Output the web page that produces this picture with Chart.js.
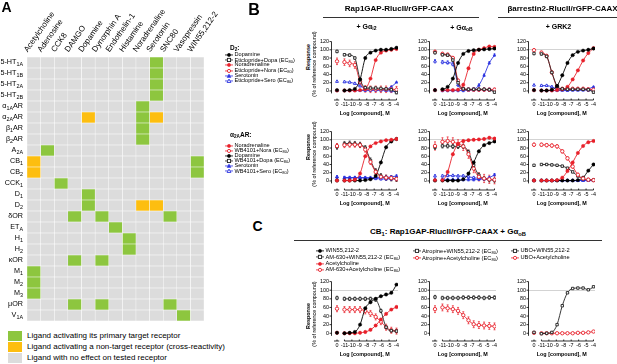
<!DOCTYPE html>
<html>
<head>
<meta charset="utf-8">
<script src="https://cdn.jsdelivr.net/npm/chart.js@4.4.0/dist/chart.umd.min.js"></script>
<style>
  body { margin: 0; background: #fff; font-family: "Liberation Sans", Arial, sans-serif; }
  #fig { position: relative; width: 617px; height: 364px; overflow: hidden; background: #fff; }
  #fig canvas { position: absolute; }
  .t { position: absolute; white-space: nowrap; line-height: 1; color: #000; }
  .t sub { font-size: 72%; vertical-align: -0.3em; line-height: 0; }
  .rule { position: absolute; height: 1px; background: #333; }
  .sw { position: absolute; width: 13.5px; height: 10px; }
</style>
</head>
<body>
<div id="fig"></div>
<script>
// ---------- panel A: ligand x receptor screen ----------
const ligands = ["Acetylcholine", "Adenosine", "CCK8", "DAMGO", "Dopamine", "Dynorphin A",
  "Endothelin-1", "Histamine", "Noradrenaline", "Serotonin", "SNC80", "Vasopressin", "WIN55,212-2"];
const receptors = ["5-HT{1A}", "5-HT{1B}", "5-HT{2A}", "5-HT{2B}", "α{1A}AR", "α{2A}AR", "β{1}AR", "β{2}AR",
  "A{2A}", "CB{1}", "CB{2}", "CCK{1}", "D{1}", "D{2}", "δOR", "ET{A}", "H{1}", "H{2}", "κOR",
  "M{1}", "M{2}", "M{3}", "μOR", "V{1A}"];
// one string per receptor, one digit per ligand: 0 no effect, 1 primary target, 2 cross-reactivity
const response = [
  "0000000001000", "0000000001000", "0000000001000", "0000000001000",
  "0000000010000", "0000200012000", "0000000010000", "0000000010000",
  "0100000000000", "2000000000001", "2000000000001", "0010000000000",
  "0000100000000", "0000100022000", "0001010000100", "0000001000000",
  "0000000100000", "0000000100000", "0001010000000",
  "1000000000000", "1000000000000", "1000000000000", "0001010000100", "0000000000010"];
const legendA = ["Ligand activating its primary target receptor",
  "Ligand activating a non-target receptor (cross-reactivity)",
  "Ligand with no effect on tested receptor"];

// ---------- dose axis shared by panels B and C ----------
const doses = [-12, -11, -10.3, -9.6, -8.9, -8.2, -7.5, -6.8, -6.1, -5.4, -4.7, -4]; // -12 = vehicle
const doseTicks = [-12, -11, -10, -9, -8, -7, -6, -5, -4];
const vehicleLabel = "0";
const yTicks = [0, 20, 40, 60, 80, 100, 120];

// ---------- panel B: D2 ----------
const d2Names = ["Dopamine", "Eticlopride+Dopa (EC{80})", "Noradrenaline", "Eticlopride+Nora (EC{80})",
  "Serotonin", "Eticlopride+Sero (EC{80})"];
const d2Gi2 = [
  [2, 1, 2, 5, 28, 80, 93, 98, 100, 100, 102, 105],
  [96, 88, 87, 80, 28, 8, 7, 7, 6, 5, 3, -4],
  [1, 1, 1, 1, 2, 5, 30, 75, 93, 98, 100, 102],
  [72, 70, 67, 63, 22, 5, 4, 4, 4, 4, 4, 3],
  [1, 1, 1, 1, 1, 1, 1, 2, 2, 4, 10, 21],
  [23, 22, 21, 18, 12, 6, 3, 2, 2, 1, 0, -2]];
const d2Gi2Err = [1, 3, 1, 8, 1, 2];
const d2GoB = [
  [2, 4, 10, 30, 68, 90, 97, 99, 100, 101, 102, 103],
  [93, 88, 87, 75, 20, 5, 4, 4, 4, 4, 3, -3],
  [2, 2, 2, 2, 3, 15, 55, 90, 100, 104, 108, 107],
  [95, 90, 88, 80, 25, 5, 3, 3, 3, 3, 3, 3],
  [2, 1, 1, 1, 1, 1, 2, 4, 14, 38, 68, 87],
  [72, 70, 69, 65, 15, 4, 3, 3, 3, 3, 3, 2]];
const d2GoBErr = [1, 3, 2, 4, 3, 4];
const d2Grk2 = [
  [2, 1, 1, 3, 12, 38, 68, 87, 95, 98, 100, 103],
  [91, 90, 84, 45, 12, 5, 4, 4, 4, 4, 3, -3],
  [2, 1, 1, 1, 2, 4, 10, 28, 50, 74, 92, 104],
  [99, 93, 85, 45, 10, 5, 5, 5, 5, 5, 4, 3],
  [2, 1, 1, 1, 1, 1, 1, 2, 2, 3, 5, 10],
  [14, 13, 13, 10, 5, 3, 2, 2, 2, 2, 2, 2]];
const d2Grk2Err = [1, 3, 2, 4, 1, 2];

// ---------- panel B: alpha2A AR ----------
const a2aNames = ["Noradrenaline", "WB4101+Nora (EC{80})", "Dopamine", "WB4101+Dopa (EC{80})",
  "Serotonin", "WB4101+Sero (EC{80})"];
const a2aGi2 = [
  [1, 1, 1, 3, 18, 60, 84, 92, 96, 99, 100, 102],
  [85, 87, 88, 88, 87, 76, 46, 22, 10, 8, 7, 5],
  [1, 1, 1, 1, 1, 2, 4, 12, 45, 82, 96, 102],
  [83, 90, 91, 90, 88, 80, 50, 24, 12, 8, 6, 5],
  [9, 8, 8, 8, 8, 8, 8, 8, 9, 9, 10, 12],
  [10, 8, 8, 8, 8, 7, 6, 6, 5, 5, 5, 5]];
const a2aGi2Err = [1, 6, 1, 6, 3, 3];
const a2aGoB = [
  [2, 2, 22, 65, 90, 97, 99, 100, 101, 102, 105, 103],
  [85, 95, 97, 95, 90, 84, 65, 30, 10, 6, 4, 3],
  [1, 1, 1, 1, 1, 4, 18, 45, 72, 87, 92, 96],
  [82, 85, 85, 84, 84, 84, 70, 38, 14, 6, 3, 2],
  [2, 3, 3, 3, 3, 3, 3, 3, 4, 5, 8, 15],
  [12, 12, 13, 13, 12, 12, 10, 8, 6, 5, 4, 3]];
const a2aGoBErr = [2, 10, 2, 5, 3, 3];
const a2aGrk2 = [
  [1, 1, 1, 1, 2, 8, 24, 45, 68, 85, 94, 97],
  [88, 88, 87, 86, 84, 72, 55, 35, 15, 6, 3, 2],
  [1, 1, 1, 1, 1, 1, 1, 1, 2, 8, 25, 40],
  [38, 40, 40, 39, 38, 36, 31, 22, 12, 5, 3, 2],
  [1, 1, 1, 1, 1, 1, 1, 1, 1, 1, 2, 2],
  [2, 1, 1, 1, 1, 1, 1, 1, 1, 1, 1, 1]];
const a2aGrk2Err = [1, 4, 1, 2, 1, 1];

// ---------- panel C: CB1 ----------
const cb1WinNames = ["WIN55,212-2", "AM-630+WIN55,212-2 (EC{80})", "Acetylcholine", "AM-630+Acetylcholine (EC{80})"];
const cb1Win = [
  [1, 0, 1, 3, 20, 58, 72, 80, 86, 90, 94, 113],
  [82, 80, 80, 80, 80, 80, 80, 78, 52, 14, 6, 5],
  [1, 0, 0, 0, 1, 3, 8, 18, 32, 45, 55, 61],
  [57, 55, 55, 55, 55, 52, 46, 38, 27, 14, 7, 5]];
const cb1WinErr = [1, 4, 2, 7];
const cb1AtropineNames = ["Atropine+WIN55,212-2 (EC{80})", "Atropine+Acetylcholine (EC{80})"];
const cb1Atropine = [
  [84, 82, 82, 82, 82, 83, 83, 83, 83, 82, 83, 83],
  [56, 60, 58, 56, 52, 42, 30, 21, 19, 18, 17, 16]];
const cb1AtropineErr = [4, 8];
const cb1UboNames = ["UBO+WIN55,212-2", "UBO+Acetylcholine"];
const cb1Ubo = [
  [2, -1, 0, 2, 20, 64, 94, 104, 105, 105, 101, 108],
  [1, 0, 0, 0, 0, 0, 0, 0, 1, 1, 2, 4]];
const cb1UboErr = [1, 1];

// ---------- styles ----------
const cellColor = ["#dcdcdc", "#8dc63f", "#fdbe10"];
const styleDefs = {
  blackFill: { color: "#000000", shape: "circle", open: false },
  blackOpen: { color: "#222222", shape: "rect", open: true },
  redFill: { color: "#e8202a", shape: "circle", open: false },
  redOpen: { color: "#e8202a", shape: "circle", open: true },
  blueFill: { color: "#2a32e0", shape: "triangle", open: false },
  blueOpen: { color: "#2a32e0", shape: "triangle", open: true },
};
const d2Styles = ["blackFill", "blackOpen", "redFill", "redOpen", "blueFill", "blueOpen"];
const a2aStyles = ["redFill", "redOpen", "blackFill", "blackOpen", "blueFill", "blueOpen"];
const cb1WinStyles = ["blackFill", "blackOpen", "redFill", "redOpen"];
const cb1PairStyles = ["blackOpen", "redOpen"];

Chart.defaults.font.family = '"Liberation Sans", Arial, sans-serif';
Chart.defaults.color = "#000";
Chart.defaults.animation = false;

const fig = document.getElementById("fig");

function rich(s) {
  return s.replace(/\{([^}]*)\}/g, "<sub>$1</sub>");
}

function addCanvas(left, top, w, h) {
  const c = document.createElement("canvas");
  c.width = w; c.height = h;
  c.style.left = left + "px"; c.style.top = top + "px";
  c.style.width = w + "px"; c.style.height = h + "px";
  fig.appendChild(c);
  return c;
}

function text(s, x, y, size, opts = {}) {
  const d = document.createElement("div");
  d.className = "t";
  d.style.left = x + "px"; d.style.top = y + "px";
  d.style.fontSize = size + "px";
  if (opts.bold) d.style.fontWeight = "bold";
  const ax = opts.anchor === "left" ? "0" : "-50%";
  d.style.transform = `translate(${ax},-50%)` + (opts.rotate ? ` rotate(${opts.rotate}deg)` : "");
  d.innerHTML = rich(s);
  fig.appendChild(d);
}

function rule(x, y, w) {
  const d = document.createElement("div");
  d.className = "rule";
  d.style.left = x + "px"; d.style.top = y + "px"; d.style.width = w + "px";
  fig.appendChild(d);
}

function markerSvg(st) {
  const fill = st.open ? "#fff" : st.color;
  const sw = st.open ? 0.9 : 0.5;
  let m;
  if (st.shape === "circle") m = `<circle cx="4" cy="3" r="1.6" fill="${fill}" stroke="${st.color}" stroke-width="${sw}"/>`;
  else if (st.shape === "rect") m = `<rect x="2.4" y="1.4" width="3.2" height="3.2" fill="${fill}" stroke="${st.color}" stroke-width="${sw}"/>`;
  else m = `<polygon points="4,1.1 5.9,4.5 2.1,4.5" fill="${fill}" stroke="${st.color}" stroke-width="${sw}"/>`;
  return `<svg width="8" height="6" style="vertical-align:middle;margin-right:1.5px">` +
    `<line x1="0" y1="3" x2="8" y2="3" stroke="${st.color}" stroke-width="0.8"/>${m}</svg>`;
}

function legend(x, y, pitch, names, styles, size) {
  names.forEach((n, k) => {
    const d = document.createElement("div");
    d.className = "t";
    d.style.left = x + "px"; d.style.top = (y + k * pitch) + "px";
    d.style.fontSize = size + "px";
    d.style.transform = "translateY(-50%)";
    d.innerHTML = markerSvg(styleDefs[styles[k]]) + "<span>" + rich(n) + "</span>";
    fig.appendChild(d);
  });
}

// ---------- plugins ----------
const rowLabels = {
  id: "rowLabels",
  afterDraw(chart) {
    const { ctx, scales: { y }, chartArea } = chart;
    const main = '7.2px "Liberation Sans", Arial, sans-serif';
    const sub = '5.4px "Liberation Sans", Arial, sans-serif';
    ctx.save();
    ctx.fillStyle = "#000";
    ctx.textBaseline = "middle";
    receptors.forEach((lab, i) => {
      const parts = lab.split(/[{}]/);
      const yy = y.getPixelForValue(i);
      let w = 0;
      parts.forEach((p, k) => { ctx.font = k % 2 ? sub : main; w += ctx.measureText(p).width; });
      let x = chartArea.left - 4 - w;
      parts.forEach((p, k) => {
        ctx.font = k % 2 ? sub : main;
        ctx.fillText(p, x, yy + (k % 2 ? 1.8 : 0));
        x += ctx.measureText(p).width;
      });
    });
    ctx.restore();
  }
};

const prismAxes = {
  id: "prismAxes",
  beforeDatasetsDraw(chart) {
    const { ctx, scales: { x, y }, chartArea: a } = chart;
    ctx.save();
    ctx.strokeStyle = "#000";
    ctx.lineWidth = 0.8;
    ctx.beginPath();
    ctx.moveTo(a.left, y.getPixelForValue(yTicks[yTicks.length - 1]));
    ctx.lineTo(a.left, y.getPixelForValue(-6));
    yTicks.forEach(t => {
      const py = y.getPixelForValue(t);
      ctx.moveTo(a.left - 2, py); ctx.lineTo(a.left, py);
    });
    const yb = a.bottom;
    ctx.moveTo(x.getPixelForValue(-12.4), yb); ctx.lineTo(x.getPixelForValue(-11.7), yb);
    ctx.moveTo(x.getPixelForValue(-11), yb); ctx.lineTo(x.getPixelForValue(-4), yb);
    doseTicks.forEach(t => {
      const px = x.getPixelForValue(t);
      ctx.moveTo(px, yb); ctx.lineTo(px, yb - 1.5);
    });
    ctx.stroke();
    ctx.restore();
  }
};

const errorBars = {
  id: "errorBars",
  beforeDatasetsDraw(chart) {
    const { ctx, scales: { x, y } } = chart;
    ctx.save();
    ctx.lineWidth = 0.7;
    chart.data.datasets.forEach(ds => {
      const e = ds.err;
      if (!e) return;
      ctx.strokeStyle = ds.borderColor;
      ctx.beginPath();
      ds.data.forEach(p => {
        const px = x.getPixelForValue(p.x);
        const y0 = y.getPixelForValue(p.y - e), y1 = y.getPixelForValue(p.y + e);
        ctx.moveTo(px, y0); ctx.lineTo(px, y1);
        ctx.moveTo(px - 1, y0); ctx.lineTo(px + 1, y0);
        ctx.moveTo(px - 1, y1); ctx.lineTo(px + 1, y1);
      });
      ctx.stroke();
    });
    ctx.restore();
  }
};

// ---------- panel A heatmap ----------
new Chart(addCanvas(0, 0, 232, 321), {
  type: "bar",
  data: {
    labels: receptors,
    datasets: ligands.map((lig, j) => ({
      label: lig,
      data: receptors.map(() => [j, j + 1]),
      backgroundColor: response.map(row => cellColor[+row[j]]),
      borderColor: "#fff",
      borderWidth: 0.5,
      borderSkipped: false,
      barPercentage: 1,
      categoryPercentage: 1,
      grouped: false,
    }))
  },
  options: {
    indexAxis: "y",
    responsive: false,
    layout: { padding: { left: 0, top: 0, right: 28, bottom: 0 } },
    plugins: { legend: { display: false }, tooltip: { enabled: false } },
    scales: {
      x: {
        type: "linear", position: "top", min: 0, max: ligands.length,
        grid: { display: false, drawTicks: false }, border: { display: false },
        afterBuildTicks: s => { s.ticks = ligands.map((_, j) => ({ value: j + 0.5 })); },
        afterFit: s => { s.height = 57; s.paddingLeft = 0; s.paddingRight = 0; },
        ticks: {
          autoSkip: false, minRotation: 55, maxRotation: 55, padding: 3,
          font: { size: 8 }, callback: (v, i) => ligands[i]
        }
      },
      y: {
        grid: { display: false, drawTicks: false }, border: { display: false }, ticks: { display: false },
        afterFit: s => { s.width = 27; }
      }
    }
  },
  plugins: [rowLabels]
});

// legend of panel A
[1, 2, 0].forEach((c, k) => {
  const d = document.createElement("div");
  d.className = "sw";
  d.style.left = "8px"; d.style.top = (330.5 + k * 11.3) + "px";
  d.style.background = cellColor[c];
  fig.appendChild(d);
  text(legendA[k], 27, 335.5 + k * 11.3, 8, { anchor: "left" });
});

// ---------- dose-response charts ----------
function doseChart(left, top, height, yMin, vals, names, styles, errs) {
  return new Chart(addCanvas(left, top, 86, height), {
    type: "scatter",
    data: {
      datasets: vals.map((v, k) => {
        const st = styleDefs[styles[k]];
        return {
          label: names[k],
          data: v.map((val, i) => ({ x: doses[i], y: val })),
          showLine: true,
          borderColor: st.color,
          borderWidth: 0.9,
          cubicInterpolationMode: "monotone",
          segment: { borderColor: c => c.p0DataIndex === 0 ? "rgba(0,0,0,0)" : undefined },
          pointStyle: st.shape,
          pointRadius: 1.7,
          pointBackgroundColor: st.open ? "#fff" : st.color,
          pointBorderColor: st.color,
          pointBorderWidth: st.open ? 0.9 : 0.4,
          err: errs[k],
        };
      })
    },
    options: {
      responsive: false,
      layout: { padding: { top: 5, right: 6, left: 0, bottom: 0 } },
      plugins: { legend: { display: false }, tooltip: { enabled: false } },
      scales: {
        x: {
          type: "linear", min: -12.74, max: -3.8,
          afterBuildTicks: s => { s.ticks = doseTicks.map(v => ({ value: v })); },
          afterFit: s => { s.height = 17; },
          grid: { display: false, drawTicks: false }, border: { display: false },
          ticks: {
            autoSkip: false, maxRotation: 0, minRotation: 0, padding: 1, font: { size: 5.4 },
            callback: v => v === doseTicks[0] ? vehicleLabel : String(v)
          },
          title: { display: true, text: "Log [compound], M", font: { size: 5.4, weight: "bold" }, padding: 0 }
        },
        y: {
          min: yMin, max: 122,
          afterBuildTicks: s => { s.ticks = yTicks.map(v => ({ value: v })); },
          afterFit: s => { s.width = 13.5; },
          border: { display: false },
          grid: {
            drawTicks: false, lineWidth: 0.8,
            color: c => (c.tick && c.tick.value === 100) ? "#c8c8c8" : "rgba(0,0,0,0)"
          },
          ticks: { padding: 2.5, font: { size: 5.4 } }
        }
      }
    },
    plugins: [prismAxes, errorBars]
  });
}

const colLeft = [318, 416, 515];
doseChart(colLeft[0], 35, 82, -22, d2Gi2, d2Names, d2Styles, d2Gi2Err);
doseChart(colLeft[1], 35, 82, -22, d2GoB, d2Names, d2Styles, d2GoBErr);
doseChart(colLeft[2], 35, 82, -22, d2Grk2, d2Names, d2Styles, d2Grk2Err);
doseChart(colLeft[0], 125, 82, -22, a2aGi2, a2aNames, a2aStyles, a2aGi2Err);
doseChart(colLeft[1], 125, 82, -22, a2aGoB, a2aNames, a2aStyles, a2aGoBErr);
doseChart(colLeft[2], 125, 82, -22, a2aGrk2, a2aNames, a2aStyles, a2aGrk2Err);
doseChart(colLeft[0], 275, 83, -18, cb1Win, cb1WinNames, cb1WinStyles, cb1WinErr);
doseChart(colLeft[1], 275, 83, -18, cb1Atropine, cb1AtropineNames, cb1PairStyles, cb1AtropineErr);
doseChart(colLeft[2], 275, 83, -18, cb1Ubo, cb1UboNames, cb1PairStyles, cb1UboErr);

// ---------- text, titles, legends ----------
text("A", 6.5, 7, 14, { bold: true });
text("B", 254, 10.3, 16, { bold: true });
text("C", 257.5, 226.3, 14, { bold: true });

text("Rap1GAP-RlucII/rGFP-CAAX", 399, 9, 8, { bold: true });
rule(323, 16.5, 156);
text("βarrestin2-RlucII/rGFP-CAAX", 562.5, 9, 8, { bold: true });
rule(498, 16.5, 119);
text("+ Gα{i2}", 366.5, 26, 7, { bold: true });
text("+ Gα{oB}", 461.5, 26.5, 7, { bold: true });
text("+ GRK2", 558.5, 26, 7, { bold: true });

[[57, 64], [147, 154], [316, 314]].forEach(([a, b]) => {
  text("Response", 308.5, a, 5.4, { bold: true, rotate: -90 });
  text("(% of reference compound)", 315, b, 5.4, { rotate: -90 });
});

text("D{2}:", 230, 48, 6.5, { bold: true, anchor: "left" });
legend(225, 55, 5.2, d2Names, d2Styles, 5.6);
text("α{2A}AR:", 230, 135, 6.5, { bold: true, anchor: "left" });
legend(225, 145.7, 5.1, a2aNames, a2aStyles, 5.6);

text("CB{1}: Rap1GAP-RlucII/rGFP-CAAX + Gα{oB}", 448, 231.7, 8, { bold: true });
rule(294, 239.5, 308);
legend(316, 251, 6.3, cb1WinNames, cb1WinStyles, 5.7);
legend(412.5, 251, 7.3, cb1AtropineNames, cb1PairStyles, 5.7);
legend(511, 251, 7.3, cb1UboNames, cb1PairStyles, 5.7);
</script>
</body>
</html>
